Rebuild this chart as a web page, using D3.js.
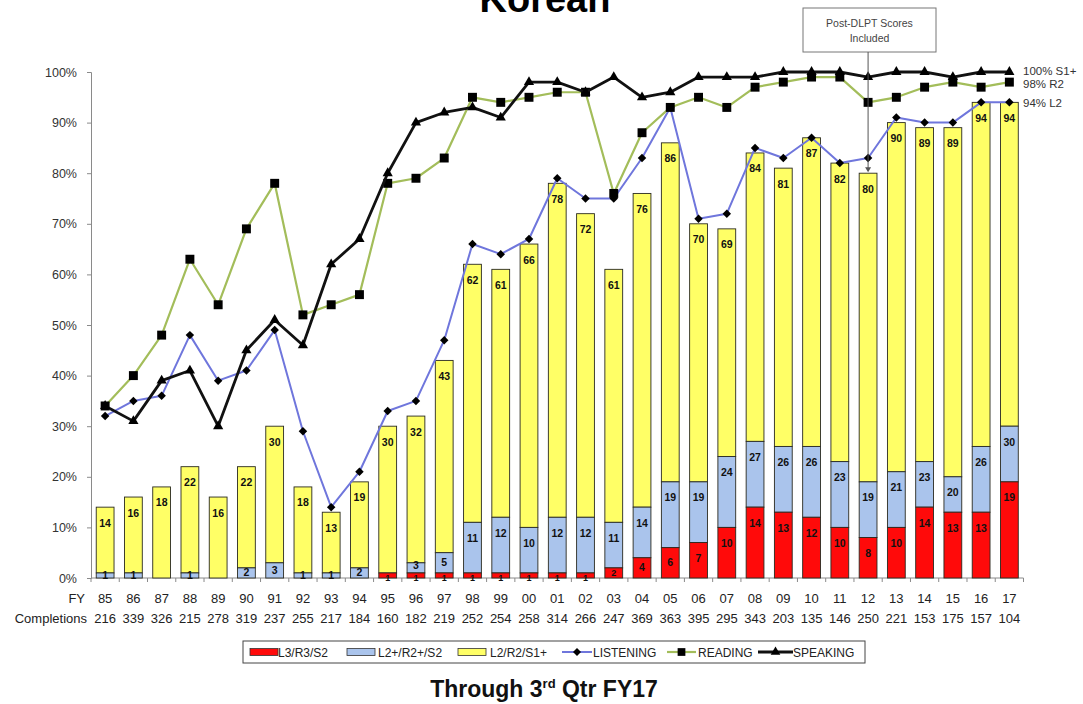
<!DOCTYPE html>
<html><head><meta charset="utf-8">
<script src="https://cdn.jsdelivr.net/npm/d3@7"></script>
<style>
html,body{margin:0;padding:0;background:#fff;}
svg{display:block;font-family:"Liberation Sans",Arial,sans-serif;}
</style></head>
<body>
<svg id="chart" width="1083" height="704"></svg>
<script>
const fy = ["85","86","87","88","89","90","91","92","93","94","95","96","97","98","99","00","01","02","03","04","05","06","07","08","09","10","11","12","13","14","15","16","17"];
const completions = [216,339,326,215,278,319,237,255,217,184,160,182,219,252,254,258,314,266,247,369,363,395,295,343,203,135,146,250,221,153,175,157,104];
// cumulative tops of stacked bars (percent)
const l3R3S2 = [0,0,0,0,0,0,0,0,0,0,1,1,1,1,1,1,1,1,2,4,6,7,10,14,13,12,10,8,10,14,13,13,19];
const l2PlusR2PlusS2 = [1,1,0,1,0,2,3,1,1,2,1,3,5,11,12,10,12,12,11,14,19,19,24,27,26,26,23,19,21,23,20,26,30];
const l2R2S1Plus = [14,16,18,22,16,22,30,18,13,19,30,32,43,62,61,66,78,72,61,76,86,70,69,84,81,87,82,80,90,89,89,94,94];
const listening = [32,35,36,48,39,41,49,29,14,21,33,35,47,66,64,67,79,75,75,83,93,71,72,85,83,87,82,83,91,90,90,94,94];
const reading = [34,40,48,63,54,69,78,52,54,56,78,79,83,95,94,95,96,96,76,88,93,95,93,97,98,99,99,94,95,97,98,97,98];
const speaking = [34,31,39,41,30,45,51,46,62,67,80,90,92,93,91,98,98,96,99,95,96,99,99,99,100,100,100,99,100,100,99,100,100];
const yTicks = [0,10,20,30,40,50,60,70,80,90,100];
const legendItems = ["L3/R3/S2","L2+/R2+/S2","L2/R2/S1+","LISTENING","READING","SPEAKING"];
const endLabels = ["100% S1+","98% R2","94% L2"];

const svg = d3.select("#chart");
const x = d3.scaleBand().domain(fy).range([91, 1023.5]).paddingInner(0.37).paddingOuter(0.185);
const y = d3.scaleLinear().domain([0, 100]).range([578, 72]);
const bw = x.bandwidth();
const cx = d => x(d) + bw / 2;
const step = x.step();

const colRed = "#ff0a0a", colBlue = "#aac4ec", colYellow = "#ffff66";
const colListen = "#6f76dc", colRead = "#a3bd5a", colSpeak = "#111";
const diamond = { draw(ctx, size) { const r = Math.sqrt(size / 2); ctx.moveTo(0, -r); ctx.lineTo(r, 0); ctx.lineTo(0, r); ctx.lineTo(-r, 0); ctx.closePath(); } };

// Title (cut off at top)
svg.append("text").attr("x", 545).attr("y", 12).attr("text-anchor", "middle")
  .style("font-weight", "bold").style("font-size", "38px").text("Korean");

// Axes
const yAxis = svg.append("g").attr("transform", "translate(91,0)")
  .call(d3.axisLeft(y).tickValues(yTicks).tickSize(4).tickFormat(d => d + "%"));
yAxis.select(".domain").attr("stroke", "#8a8a8a");
yAxis.selectAll(".tick line").attr("stroke", "#8a8a8a");
yAxis.selectAll(".tick text").attr("x", -14).style("font-size", "12.5px").attr("fill", "#333").style("font-family", "Liberation Sans, Arial, sans-serif");

svg.append("line").attr("x1", 91).attr("x2", 1023.5).attr("y1", y(0)).attr("y2", y(0)).attr("stroke", "#8a8a8a");
const bounds = d3.range(fy.length + 1).map(i => 91 + i * step);
svg.selectAll(".xt").data(bounds).join("line").attr("class", "xt")
  .attr("x1", d => d).attr("x2", d => d).attr("y1", y(0)).attr("y2", y(0) + 4).attr("stroke", "#8a8a8a");

// Bars
const rows = fy.map((f, i) => ({ f, r: l3R3S2[i], b: l2PlusR2PlusS2[i], yl: l2R2S1Plus[i] }));
const bars = svg.append("g");
rows.forEach(d => {
  const segs = [
    { lo: Math.max(d.b, d.r), hi: d.yl, c: colYellow },
    { lo: d.r, hi: d.b, c: colBlue },
    { lo: 0, hi: d.r, c: colRed }
  ];
  segs.forEach(s => {
    if (s.hi > s.lo) {
      bars.append("rect").attr("x", x(d.f)).attr("width", bw)
        .attr("y", y(s.hi)).attr("height", y(s.lo) - y(s.hi))
        .attr("fill", s.c).attr("stroke", "#2a2a20").attr("stroke-width", 0.9);
    }
  });
});
// Bar labels
const lbl = svg.append("g").style("font-size", "10.5px").style("font-weight", "bold").attr("fill", "#111").attr("text-anchor", "middle");
function labelY(lo, hi) { const top = y(hi), mid = (y(lo) + y(hi)) / 2; return Math.min(top + 16, mid) + 3.5; }
rows.forEach(d => {
  lbl.append("text").attr("x", cx(d.f)).attr("y", labelY(Math.max(d.b, d.r), d.yl)).text(d.yl);
  if (d.b > d.r) lbl.append("text").attr("x", cx(d.f)).attr("y", labelY(d.r, d.b) - (d.r > 0 && d.b - d.r < 4 ? 2 : 0)).text(d.b);
  if (d.r > 0) lbl.append("text").attr("x", cx(d.f)).attr("y", labelY(0, d.r) + (d.r < 2 ? 2 : 0)).style("font-size", d.r < 3 ? "9px" : null).text(d.r);
});

// Lines
function drawSeries(vals, color, width, symbol, size) {
  const pts = fy.map((f, i) => [cx(f), y(vals[i])]);
  svg.append("path").attr("d", d3.line()(pts)).attr("fill", "none").attr("stroke", color).attr("stroke-width", width).attr("stroke-linejoin", "round");
  svg.append("g").selectAll("path").data(pts).join("path")
    .attr("transform", p => `translate(${p[0]},${p[1]})`)
    .attr("d", d3.symbol().type(symbol).size(size)).attr("fill", "#000");
}
drawSeries(listening, colListen, 2, diamond, 36);
drawSeries(reading, colRead, 2.2, d3.symbolSquare, 80);
drawSeries(speaking, colSpeak, 2.8, d3.symbolTriangle, 45);

// End labels
const endY = [70.5, 83.5, 103];
svg.selectAll(".endl").data(endLabels).join("text").attr("class", "endl")
  .attr("x", 1023).attr("y", (d, i) => endY[i] + 4).style("font-size", "11.5px").attr("fill", "#333").text(d => d);

// Annotation
const ax = cx("12");
svg.append("rect").attr("x", 803).attr("y", 8).attr("width", 133).attr("height", 44).attr("fill", "#fff").attr("stroke", "#777");
svg.append("text").attr("x", 869.5).attr("y", 27).attr("text-anchor", "middle").style("font-size", "10.5px").attr("fill", "#444").text("Post-DLPT Scores");
svg.append("text").attr("x", 869.5).attr("y", 42).attr("text-anchor", "middle").style("font-size", "10.5px").attr("fill", "#444").text("Included");
svg.append("line").attr("x1", ax).attr("x2", ax).attr("y1", 52).attr("y2", y(80) - 4).attr("stroke", "#555").attr("stroke-width", 1);
svg.append("path").attr("d", `M${ax - 3},${y(80) - 6}L${ax + 3},${y(80) - 6}L${ax},${y(80) - 1}Z`).attr("fill", "#555");

// FY / Completions rows
const rowStyle = sel => sel.style("font-size", "13px").attr("fill", "#222").attr("text-anchor", "middle");
svg.append("text").attr("x", 85).attr("y", 603).attr("text-anchor", "end").style("font-size", "13px").attr("fill", "#222").text("FY");
svg.append("text").attr("x", 87).attr("y", 623).attr("text-anchor", "end").style("font-size", "13px").attr("fill", "#222").text("Completions");
svg.selectAll(".fyl").data(fy).join("text").attr("class", "fyl").call(rowStyle)
  .attr("x", d => cx(d)).attr("y", 603).text(d => d);
svg.selectAll(".cpl").data(completions).join("text").attr("class", "cpl").call(rowStyle)
  .attr("x", (d, i) => cx(fy[i])).attr("y", 623).text(d => d);

// Legend
const lg = svg.append("g");
lg.append("rect").attr("x", 243).attr("y", 641).attr("width", 622).attr("height", 22).attr("fill", "#fff").attr("stroke", "#444");
const ly = 652;
const swX = [250, 347, 458];
const swC = [colRed, colBlue, colYellow];
const txtX = [278, 378, 490, 593, 698, 793];
[0, 1, 2].forEach(i => {
  lg.append("rect").attr("x", swX[i]).attr("y", ly - 3.5).attr("width", 28).attr("height", 7).attr("fill", swC[i]).attr("stroke", "#333").attr("stroke-width", 0.8);
});
const lineItems = [[562, 592, colListen, diamond, 32, 2], [667, 696, colRead, d3.symbolSquare, 60, 2.2], [758, 793, colSpeak, d3.symbolTriangle, 40, 2.8]];
lineItems.forEach(([x1, x2, c, sym, sz, w]) => {
  lg.append("line").attr("x1", x1).attr("x2", x2).attr("y1", ly).attr("y2", ly).attr("stroke", c).attr("stroke-width", w);
  lg.append("path").attr("transform", `translate(${(x1 + x2) / 2},${ly})`).attr("d", d3.symbol().type(sym).size(sz)).attr("fill", "#000");
});
lg.selectAll(".lt").data(legendItems).join("text").attr("class", "lt")
  .attr("x", (d, i) => txtX[i]).attr("y", ly + 4.5).style("font-size", "12px").attr("fill", "#222").text(d => d);

// Subtitle
const sub = svg.append("text").attr("x", 544).attr("y", 697).attr("text-anchor", "middle")
  .style("font-weight", "bold").style("font-size", "23px").attr("fill", "#111");
sub.append("tspan").text("Through 3");
sub.append("tspan").attr("dy", -9).style("font-size", "13px").text("rd");
sub.append("tspan").attr("dy", 9).text(" Qtr FY17");
</script>
</body></html>
